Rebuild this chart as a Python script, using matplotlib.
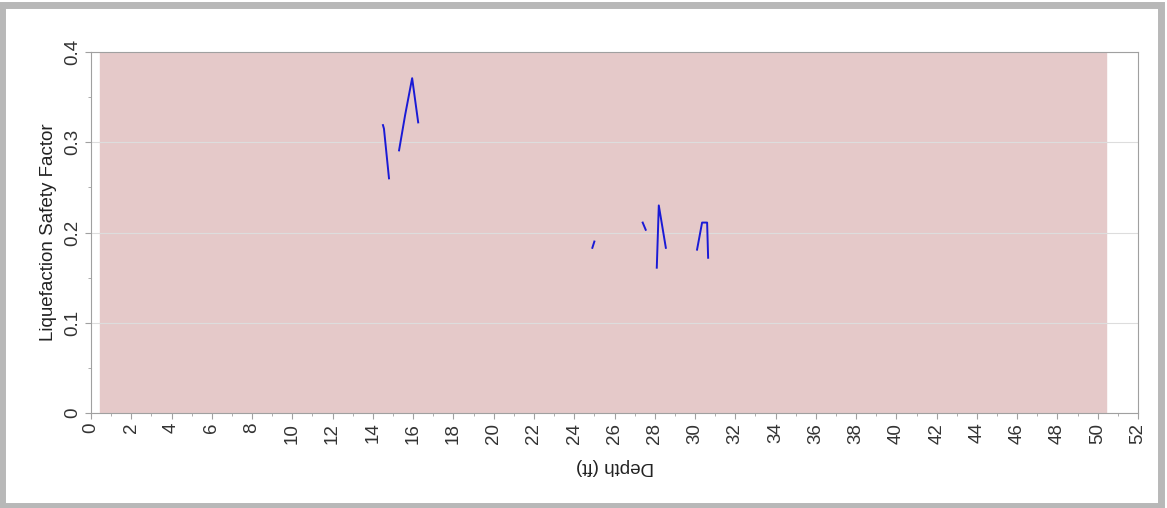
import numpy as np
import matplotlib.pyplot as plt
from matplotlib.patches import Rectangle

plt.rcParams['font.family'] = ['Liberation Sans', 'DejaVu Sans']

# depth (ft) and safety factor, NaN breaks the line into pieces
depth = [14.5, 14.55, 14.8, np.nan,
         15.3, 15.6, 15.95, 16.25, np.nan,
         24.9, 25.0, np.nan,
         27.4, 27.55, np.nan,
         28.1, 28.2, 28.55, np.nan,
         30.1, 30.35, 30.6, 30.65]
safety = [0.319, 0.315, 0.260, np.nan,
          0.291, 0.330, 0.371, 0.322, np.nan,
          0.183, 0.190, np.nan,
          0.211, 0.203, np.nan,
          0.161, 0.230, 0.183, np.nan,
          0.181, 0.211, 0.211, 0.172]

shade_start, shade_end = 0.45, 50.4
x_ticks = list(range(0, 53, 2))
y_ticks = [0, 0.1, 0.2, 0.3, 0.4]

fig = plt.figure(figsize=(11.67, 5.08), dpi=100)
ax = fig.add_axes([91 / 1167, 1 - 413 / 508, (1138 - 91) / 1167, (413 - 52) / 508])

ax.axvspan(shade_start, shade_end, color='#e5c9c9', zorder=0)
ax.plot(depth, safety, color='#1a1ad6', linewidth=1.4, zorder=3)

ax.set_xlim(0, 52)
ax.set_ylim(0, 0.4)
ax.set_xticks(x_ticks)
ax.set_xticklabels([str(t) for t in x_ticks], rotation=90, fontsize=13.5)
ax.set_xticks(range(0, 53), minor=True)
ax.set_yticks(y_ticks)
ax.set_yticklabels(['0', '0.1', '0.2', '0.3', '0.4'], rotation=90, va='center',
                   fontsize=13.5)
ax.set_yticks(np.arange(0, 0.41, 0.05), minor=True)
ax.grid(axis='y', color='#dddddd', linewidth=0.8, zorder=1)
ax.set_axisbelow(True)

for s in ax.spines.values():
    s.set_color('#a0a0a0')
ax.tick_params(colors='#a0a0a0', labelcolor='#333333', length=4, pad=3)
ax.tick_params(which='minor', colors='#a0a0a0', length=2)

ax.set_ylabel('Liquefaction Safety Factor', fontsize=13.5, color='#222222', labelpad=5)
ax.set_xlabel('Depth (ft)', fontsize=13.5, color='#222222', rotation=180, labelpad=10)

# outer frame like the screenshot border
fig.patches.append(Rectangle((0.002, 0.004), 0.993, 0.987, transform=fig.transFigure,
                             fill=False, edgecolor='#b8b8b8', linewidth=5))

fig.savefig('out.png', dpi=100, facecolor='white')
